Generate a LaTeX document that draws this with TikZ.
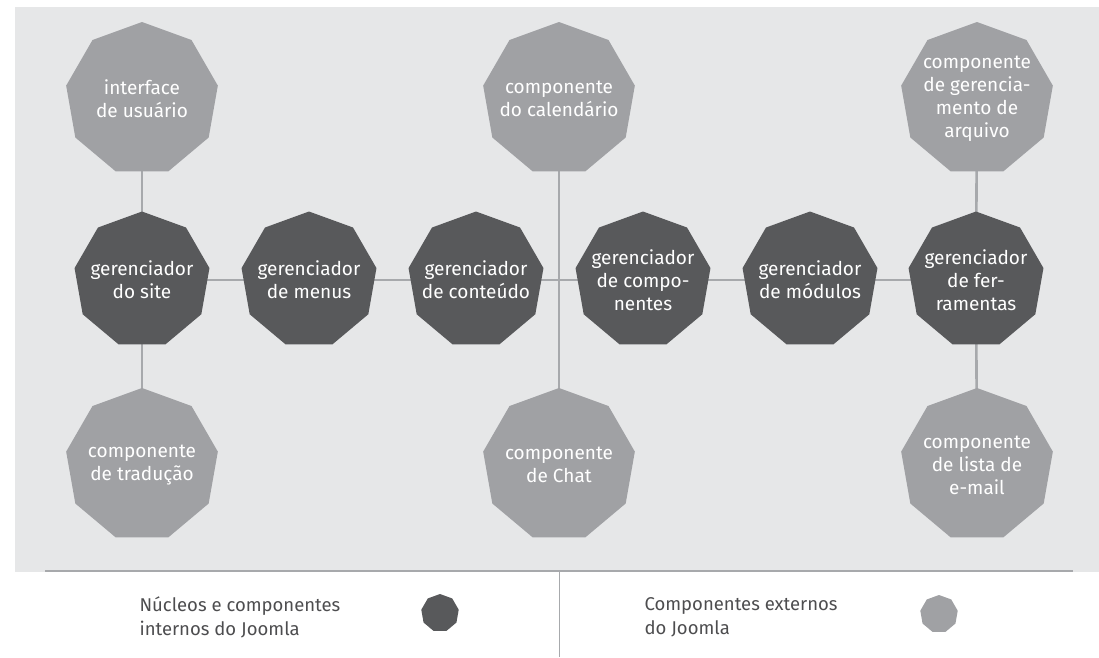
\documentclass[tikz,border=0pt]{standalone}
\usepackage{fontspec}
\setmainfont{Fira Sans}
\usetikzlibrary{shapes.geometric}
\definecolor{darkn}{HTML}{58595B}
\definecolor{lightn}{HTML}{A0A1A4}
\definecolor{bgc}{HTML}{E6E7E8}
\definecolor{linec}{HTML}{A7A9AC}
\definecolor{legtext}{HTML}{4D4D4F}
\pgfdeclarelayer{bg}
\pgfdeclarelayer{lines}
\pgfsetlayers{bg,lines,main}
\tikzset{
  poly/.style={regular polygon, regular polygon sides=9, inner sep=0pt, draw=none},
  lbl/.style={text=white, align=center, inner sep=0pt, font=\fontsize{19}{23}\selectfont},
  core/.style={poly, fill=darkn, minimum size=137pt, label={[lbl]center:{#1}}},
  ext/.style={poly, fill=lightn, minimum size=154pt, label={[lbl]center:{#1}}},
  conn/.style={draw=linec, line width=2.6pt},
  legpoly/.style={poly, minimum size=38pt},
  legtxt/.style={anchor=west, align=left, text=legtext, font=\fontsize{18.5}{24}\selectfont},
}
\begin{document}
\begin{tikzpicture}[x=1pt,y=-1pt]
\useasboundingbox (0,0) rectangle (1099,657);
\begin{pgfonlayer}{bg}
\fill[bgc] (15,7) rectangle (1099,572);
\end{pgfonlayer}
% core nodes
\node[core={gerenciador\\do site}] (site) at (142,280) {};
\node[core={gerenciador\\de menus}] (menus) at (309,280) {};
\node[core={gerenciador\\de conteúdo}] (cont) at (476,280) {};
\node[core={gerenciador\\de compo-\\nentes}] (comp) at (643,280) {};
\node[core={gerenciador\\de módulos}] (mod) at (810,280) {};
\node[core={gerenciador\\de fer-\\ramentas}] (ferr) at (976,280) {};
% external nodes
\node[ext={interface\\de usuário}] (ui) at (142,99) {};
\node[ext={componente\\de tradução}] (trad) at (142,465) {};
\node[ext={componente\\do calendário}] (cal) at (559,99) {};
\node[ext={componente\\de Chat}] (chat) at (559,465) {};
\node[ext={componente\\de gerencia-\\mento de\\arquivo}] (arq) at (977,99) {};
\node[ext={componente\\de lista de\\e-mail}] (mail) at (977,465) {};
% connectors
\begin{pgfonlayer}{lines}
\draw[conn] (site.center) -- (menus.center);
\draw[conn] (menus.center) -- (cont.center);
\draw[conn] (cont.center) -- (comp.center);
\draw[conn] (comp.center) -- (mod.center);
\draw[conn] (mod.center) -- (ferr.center);
\draw[conn] (ui.center) -- (site.center);
\draw[conn] (site.center) -- (trad.center);
\draw[conn] (cal.center) -- (chat.center);
\draw[conn] (arq.center) -- (ferr.center);
\draw[conn] (ferr.center) -- (mail.center);
\end{pgfonlayer}
% legend
\coordinate (ll) at (45,571);
\coordinate (lr) at (1073,571);
\coordinate (dt) at (559,571);
\coordinate (db) at (559,657);
\draw[draw=linec, line width=1.5pt] (ll) -- (lr);
\draw[draw=linec, line width=1pt] (dt) -- (db);
\node[legtxt] (lt1) at (136,617) {Núcleos e componentes\\internos do Joomla};
\node[legpoly, fill=darkn] (lp1) at (440,613) {};
\node[legtxt] (lt2) at (641,617) {Componentes externos\\do Joomla};
\node[legpoly, fill=lightn] (lp2) at (939,614) {};
\end{tikzpicture}
\end{document}
